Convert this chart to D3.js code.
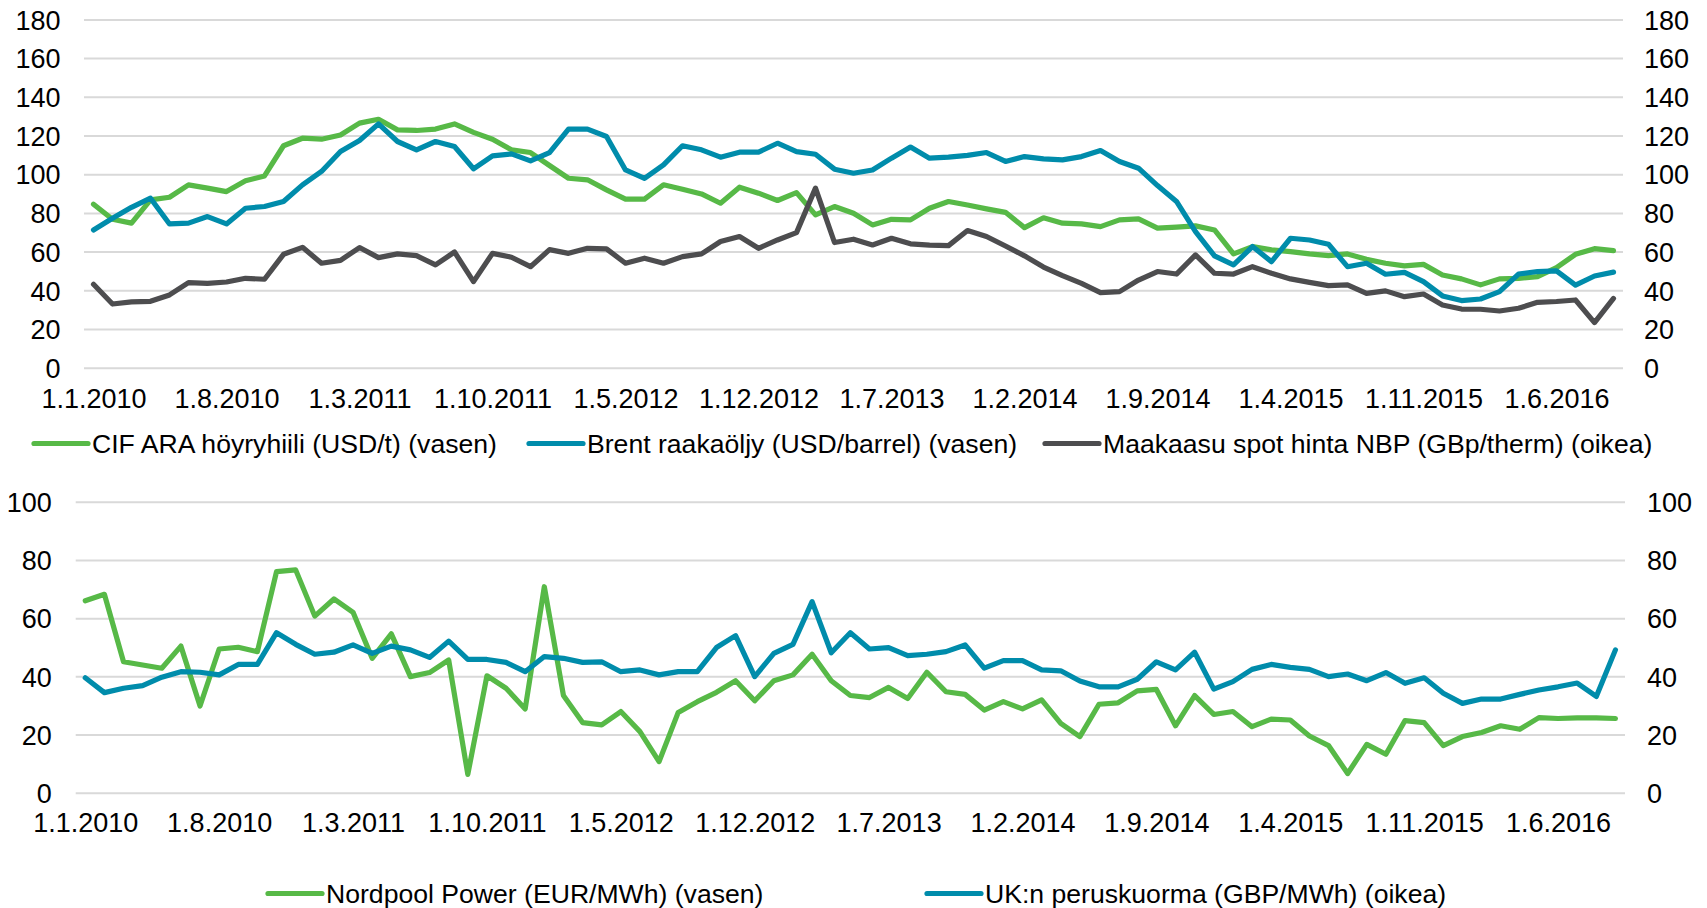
<!DOCTYPE html>
<html><head><meta charset="utf-8">
<script src="https://cdn.jsdelivr.net/npm/d3@7/dist/d3.min.js"></script>
<style>
body{margin:0;background:#fff;}
text{font-family:"Liberation Sans",Arial,sans-serif;fill:#000;}
</style>
</head><body>
<svg id="chart" width="1707" height="908"></svg>
<script>
// ---------- DATA ----------
const months = d3.timeMonth.range(new Date(2010,0,1), new Date(2016,9,1)); // Jan 2010 .. Sep 2016
const xTickLabels = ["1.1.2010","1.8.2010","1.3.2011","1.10.2011","1.5.2012","1.12.2012","1.7.2013","1.2.2014","1.9.2014","1.4.2015","1.11.2015","1.6.2016"];
const topTicks = [0,20,40,60,80,100,120,140,160,180];
const bottomTicks = [0,20,40,60,80,100];

const coal = [84.5,76.7,74.7,86.7,88.1,94.5,92.8,91.0,96.6,99.1,114.7,118.6,118.1,120.3,126.4,128.4,122.9,122.6,123.3,126.0,121.6,118.1,112.6,111.2,104.5,97.9,97.1,91.9,87.1,87.1,94.5,92.2,89.8,85.0,93.3,90.2,86.4,90.5,79.0,83.3,79.8,73.8,76.7,76.4,82.4,85.9,84.1,82.1,80.3,72.4,77.5,74.7,74.3,72.9,76.4,76.9,72.1,72.6,73.3,71.2,58.8,62.6,60.9,60.0,58.8,57.9,58.8,56.0,54.0,52.6,53.4,47.9,45.9,42.8,45.9,46.2,47.1,51.7,58.6,61.5,60.5];
const brent = [71.2,77.2,82.9,87.6,74.3,74.7,78.1,74.3,82.4,83.3,85.9,94.5,101.4,111.7,117.4,126.0,116.9,112.6,116.9,114.3,102.8,109.5,110.5,106.9,111.2,123.3,123.3,119.5,102.2,97.9,104.8,114.7,112.6,108.8,111.4,111.4,116.0,111.7,110.3,102.6,100.5,102.2,108.3,114.0,108.3,108.8,109.7,111.2,106.6,109.1,107.9,107.4,109.1,112.2,106.6,103.1,94.1,85.9,70.3,57.8,53.1,62.6,54.8,66.9,66.0,63.8,52.2,54.0,48.3,49.3,44.5,37.1,34.7,35.5,39.3,48.4,49.7,50.0,42.7,47.4,49.4];
const gas = [43.1,32.9,34.0,34.3,37.6,44.0,43.6,44.3,46.2,45.7,58.6,62.2,54.0,55.5,62.1,56.9,58.8,57.9,53.1,59.8,44.5,59.1,57.1,52.2,61.0,59.1,61.7,61.4,54.0,56.6,54.0,57.4,58.8,65.2,67.8,61.7,66.0,69.8,92.8,64.7,66.4,63.4,66.9,64.0,63.3,63.1,70.9,67.8,62.9,57.8,52.0,47.6,43.6,38.8,39.3,45.3,49.7,48.4,58.3,48.8,48.4,52.2,48.8,45.9,44.1,42.4,42.8,38.4,39.7,36.7,38.1,32.4,30.3,30.2,29.3,30.7,33.8,34.2,35.0,23.3,35.8];
const nordpool = [66.0,68.2,45.0,43.9,42.8,50.4,29.8,49.4,50.0,48.5,76.0,76.6,60.7,66.6,62.0,46.2,54.6,39.9,41.3,45.6,6.3,40.2,35.9,28.8,70.8,33.4,24.1,23.3,27.9,21.0,10.7,27.6,31.3,34.5,38.5,31.6,38.5,40.5,47.6,38.5,33.4,32.7,36.2,32.4,41.4,34.7,33.8,28.4,31.3,28.8,31.9,23.8,19.3,30.4,30.9,35.0,35.5,23.0,33.4,26.9,27.9,22.7,25.3,25.0,19.5,16.2,6.6,16.6,13.2,24.8,24.1,16.2,19.3,20.7,23.0,21.8,25.8,25.5,25.7,25.7,25.5];
const ukBase = [39.5,34.4,35.9,36.8,39.7,41.6,41.4,40.5,44.1,44.1,55.0,51.0,47.6,48.3,50.8,47.9,50.4,49.1,46.5,52.1,45.8,45.8,44.8,41.6,46.8,46.2,44.8,45.0,41.6,42.2,40.5,41.6,41.6,49.9,54.0,39.9,47.9,51.0,65.7,48.1,55.0,49.4,49.9,47.1,47.6,48.5,50.8,42.8,45.4,45.4,42.2,41.9,38.4,36.4,36.4,39.0,45.0,42.2,48.3,35.6,38.2,42.4,44.1,43.1,42.4,39.9,40.8,38.5,41.3,37.6,39.5,34.2,30.7,32.2,32.2,33.8,35.3,36.4,37.7,33.1,49.1];

const topSeries = [
  {name:"CIF ARA höyryhiili (USD/t) (vasen)", values:coal, color:"#57B947"},
  {name:"Brent raakaöljy (USD/barrel) (vasen)", values:brent, color:"#008CAB"},
  {name:"Maakaasu spot hinta NBP (GBp/therm) (oikea)", values:gas, color:"#4D4D4F"}
];
const bottomSeries = [
  {name:"Nordpool Power (EUR/MWh) (vasen)", values:nordpool, color:"#57B947"},
  {name:"UK:n peruskuorma (GBP/MWh) (oikea)", values:ukBase, color:"#008CAB"}
];

// ---------- LAYOUT ----------
const FS = 27, LFS = 26.6;
const svg = d3.select("#chart");
const idx = d3.range(months.length);
function labelIndex(s){ const p=s.split("."); return (+p[2]-2010)*12 + (+p[1]-1); }

function panel(cfg){
  const g = svg.append("g");
  const x = d3.scalePoint().domain(idx).range([cfg.left, cfg.right]).padding(0.5);
  const y = d3.scaleLinear().domain(cfg.domain).range([cfg.bottom, cfg.top]);
  const yR = d3.scaleLinear().domain(cfg.domain).range([cfg.bottom, cfg.top]);
  // gridlines
  g.append("g").attr("transform",`translate(${cfg.left},0)`)
    .call(d3.axisLeft(y).tickValues(cfg.ticks).tickSize(-(cfg.right-cfg.left)).tickFormat(""))
    .call(a=>{a.select(".domain").remove(); a.selectAll("line").attr("stroke","#D9D9D9").attr("stroke-width",2);});
  // left labels
  g.append("g").attr("transform",`translate(${cfg.left},0)`)
    .call(d3.axisLeft(y).tickValues(cfg.ticks).tickSize(0).tickPadding(cfg.left-cfg.leftLabel))
    .call(a=>{a.select(".domain").remove(); a.selectAll("text").attr("font-size",FS).attr("dy","0.36em").attr("fill","#000");});
  // right labels
  g.append("g").attr("transform",`translate(${cfg.right},0)`)
    .call(d3.axisRight(yR).tickValues(cfg.ticks).tickSize(0).tickPadding(cfg.rightLabel-cfg.right))
    .call(a=>{a.select(".domain").remove(); a.selectAll("text").attr("font-size",FS).attr("dy","0.36em").attr("fill","#000");});
  // x axis labels
  const tickIdx = xTickLabels.map(labelIndex);
  g.append("g").attr("transform",`translate(0,${cfg.bottom})`)
    .call(d3.axisBottom(x).tickValues(tickIdx).tickSize(0).tickPadding(cfg.xPad)
      .tickFormat(i=>xTickLabels[tickIdx.indexOf(i)]))
    .call(a=>{a.select(".domain").remove(); a.selectAll("text").attr("font-size",FS).attr("fill","#000");});
  // lines
  const line = d3.line().x((d,i)=>x(i)).y(d=>y(d));
  cfg.series.forEach(s=>{
    g.append("path").datum(s.values).attr("d",line).attr("fill","none")
      .attr("stroke",s.color).attr("stroke-width",5.2).attr("stroke-linejoin","round").attr("stroke-linecap","round");
  });
  // legend
  cfg.series.forEach((s,k)=>{
    const L = cfg.legend[k];
    g.append("line").attr("x1",L[0]).attr("x2",L[0]+54).attr("y1",cfg.legendY).attr("y2",cfg.legendY)
      .attr("stroke",s.color).attr("stroke-width",5.2).attr("stroke-linecap","round");
    g.append("text").attr("x",L[0]+58).attr("y",cfg.legendY).attr("dy","0.36em").attr("font-size",LFS).text(s.name);
  });
}

panel({left:84,right:1623,top:19.4,bottom:367.7,domain:[0,180],ticks:topTicks,
  leftLabel:60.5,rightLabel:1644,xPad:21.4,series:topSeries,legendY:443.5,
  legend:[[34],[529],[1045]]});
panel({left:75.7,right:1625,top:501.8,bottom:792.7,domain:[0,100],ticks:bottomTicks,
  leftLabel:51.7,rightLabel:1647,xPad:20.4,series:bottomSeries,legendY:893.5,
  legend:[[268],[927]]});
</script>
</body></html>
